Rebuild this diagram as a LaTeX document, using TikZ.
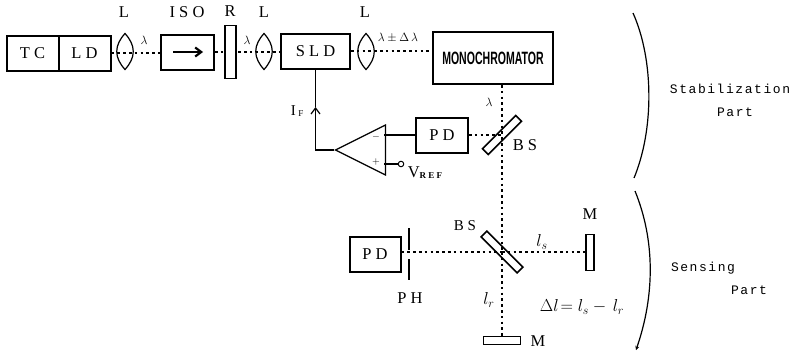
\documentclass[tikz,border=0pt]{standalone}
\usepackage{fontspec}
\usetikzlibrary{arrows.meta,shapes.geometric}
\setmainfont{Liberation Serif}
\newfontfamily\capfont[LetterSpace=25]{Liberation Serif}
\newfontfamily\partfont[LetterSpace=12]{Liberation Mono}
\newfontfamily\monofont{Liberation Sans}
\tikzset{
  wire/.style={line width=1.2pt},
  beam/.style={line width=1.1pt,dash pattern=on 2.6pt off 3.2pt},
  block/.style={draw,line width=2pt,minimum width=#1,minimum height=35pt,inner sep=0pt,
    font=\capfont\fontsize{16.5}{18}\selectfont},
  block/.default=52pt,
  plate/.style={draw,line width=1.6pt,inner sep=0pt},
  tag/.style={font=\capfont\fontsize{16.5}{18}\selectfont,inner sep=0pt},
  sym/.style={font=\fontsize{12}{14}\selectfont,inner sep=0pt},
  len/.style={font=\fontsize{17.28}{19}\selectfont,inner sep=0pt},
  part/.style={font=\partfont\fontsize{13}{15}\selectfont,inner sep=0pt},
  pics/lens/.style={code={
    \draw[wire] (0,-18) .. controls (-11,-6) and (-11,6) .. (0,18)
      .. controls (11,6) and (11,-6) .. (0,-18) -- cycle;
  }},
}
\begin{document}
\begin{tikzpicture}[x=1pt,y=-1pt]
  \useasboundingbox (0,0) rectangle (791,359);
  % top row
  \node[block] (tc) at (32.5,53) {TC};
  \node[block] (ld) at (84.5,53) {LD};
  \node[block=53pt] (iso) at (187.5,52) {};
  \node[block=69pt] (sld) at (315.5,51) {SLD};
  \node[draw,line width=2pt,minimum width=120pt,minimum height=52pt,inner sep=0pt] (mono) at (493,58)
    {\scalebox{0.62}[1.05]{\monofont\bfseries\fontsize{17}{19}\selectfont MONOCHROMATOR}};
  \draw[beam] (ld.east) -- (ld.east -| iso.west);
  \draw[beam] (iso.east) -- (iso.east -| sld.west);
  \draw[beam] (sld.east) -- (sld.east -| mono.west);
  \node[plate,fill=white,minimum width=11pt,minimum height=53pt] (ret) at (230.5,52) {};
  \foreach \x in {125,264,366} \pic at (\x,51.5) {lens};
  \draw[line width=2.2pt,-{Straight Barb[length=6pt,width=9pt]}] (173,52) -- (203,52);
  \node[tag] (la) at (124,12) {L};
  \node[tag] (isot) at (187,12) {ISO};
  \node[tag] (rt) at (230,11) {R};
  \node[tag] (lb) at (264,12) {L};
  \node[tag] (lc) at (365,12) {L};
  \node[sym] (wa) at (144,40) {$\lambda$};
  \node[sym] (wb) at (247,40) {$\lambda$};
  \node[sym] (wc) at (398,38) {$\lambda\pm\Delta\,\lambda$};
  \node[sym] (wd) at (489,102) {$\lambda$};
  % feedback
  \node[block=52pt] (pda) at (442,135) {PD};
  \node[plate,rotate=45,minimum width=47pt,minimum height=8pt] (bsa) at (502,135) {};
  \node[draw,wire,isosceles triangle,isosceles triangle stretches,shape border rotate=180,
    minimum width=50pt,minimum height=50pt,inner sep=0pt,anchor=apex] (amp) at (334,150) {};
  \coordinate (ifp) at (315.5,107);
  \coordinate (refc) at (401,164);
  \node[sym,font=\fontsize{10}{12}\selectfont] (minus) at (376,137) {$-$};
  \node[sym,font=\bfseries\fontsize{10}{12}\selectfont] (plus) at (376,162) {$+$};
  \draw[wire,-{Straight Barb[length=6pt,width=9pt]}] (amp.apex) -| (ifp);
  \draw[wire] (ifp) -- (sld.south);
  \draw[wire] (pda.west) -- (384,135);
  \draw[wire] (384,164) -- (refc);
  \node[draw,circle,line width=1pt,minimum size=5.5pt,inner sep=0pt,fill=white] (vc) at (refc) {};
  \draw[beam] (pda.east) -- (bsa.center);
  \node[tag,font=\fontsize{15}{17}\selectfont] (ifl) at (297,111) {I\,\raisebox{-1pt}{\fontsize{9}{10}\selectfont F}};
  \node[tag] (vref) at (425,173) {V\raisebox{-1pt}{\fontsize{9}{10}\selectfont\bfseries REF}};
  \node[tag] (bsat) at (525,145) {BS};
  % sensing
  \node[plate,rotate=-45,minimum width=51pt,minimum height=8pt] (bsb) at (502,252) {};
  \node[block=51pt] (pdb) at (375,254) {PD};
  \coordinate (pha) at (409,228);
  \coordinate (phb) at (409,250);
  \coordinate (phc) at (409,259);
  \coordinate (phd) at (409,280);
  \draw[line width=1.8pt] (pha) -- (phb) (phc) -- (phd);
  \node[plate,minimum width=8pt,minimum height=36pt] (mra) at (590,252.5) {};
  \node[plate,minimum width=37pt,minimum height=8pt] (mrb) at (502,340.5) {};
  \draw[beam] (mono.south -| bsb.center) -- (bsb.center);
  \draw[beam] (bsb.center) -- (mrb.north);
  \draw[beam] (pdb.east |- bsb.center) -- (bsb.center);
  \draw[beam] (bsb.center) -- (mra.west |- bsb.center);
  \node[tag,font=\capfont\fontsize{15}{17}\selectfont] (bsbt) at (465,226) {BS};
  \node[tag] (pht) at (410,298) {PH};
  \node[tag] (mat) at (590,214) {M};
  \node[tag] (mbt) at (538,341) {M};
  \node[len] (ls) at (542,242) {$l_s$};
  \node[len] (lr) at (489,300) {$l_r$};
  \node[len] (dl) at (582,307) {$\Delta l\!=l_s-\,l_r$};
  % right side
  \coordinate (cua) at (633,13);
  \coordinate (cub) at (634,178);
  \coordinate (cuc) at (635,191);
  \coordinate (cud) at (636,350);
  \draw[wire] (cua) .. controls (654,60) and (654,130) .. (cub);
  \draw[wire,-{Stealth[length=4pt,width=4pt]}] (cuc) .. controls (655,240) and (655,295) .. (cud);
  \node[part] (sta) at (730,89) {Stabilization};
  \node[part] (stb) at (735,112) {Part};
  \node[part] (sea) at (703,268) {Sensing};
  \node[part] (seb) at (749,290) {Part};
\end{tikzpicture}
\end{document}
